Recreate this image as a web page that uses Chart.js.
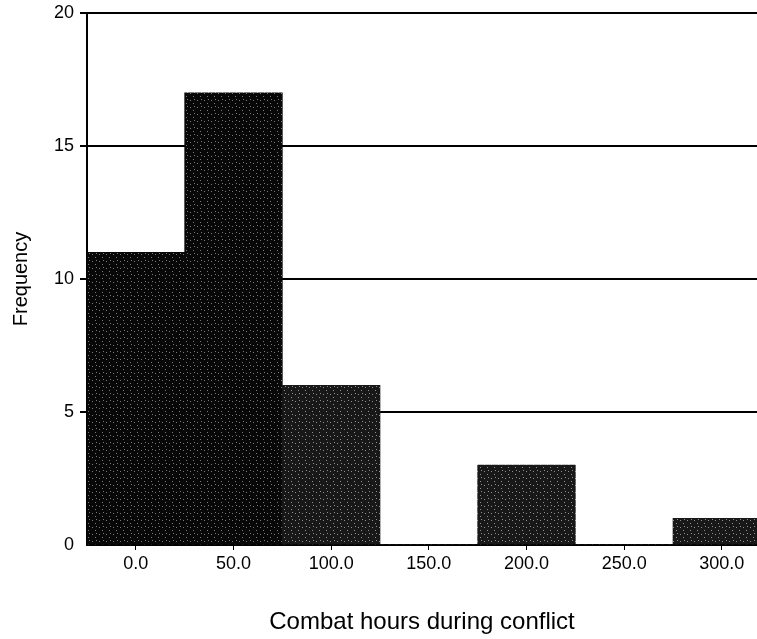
<!DOCTYPE html>
<html>
<head>
<meta charset="utf-8">
<style>
  html, body { margin: 0; padding: 0; background: #fff; }
  #wrap { width: 757px; height: 639px; }
</style>
<script src="https://cdn.jsdelivr.net/npm/chart.js@4.4.1/dist/chart.umd.min.js"></script>
</head>
<body>
<div id="wrap"><canvas id="hist"></canvas></div>
<script>
// bin centres (combat hours) and counts
const binCenters = [0, 50, 100, 150, 200, 250, 300];
const frequencies = [11, 17, 6, 0, 3, 0, 1];
const xTickValues = [0, 50, 100, 150, 200, 250, 300];
const yTickValues = [0, 5, 10, 15, 20];

// grainy dark fill, like the scanned print
function grainPattern(base, speck) {
    const c = document.createElement("canvas");
    c.width = 7;
    c.height = 7;
    const g = c.getContext("2d");
    g.fillStyle = base;
    g.fillRect(0, 0, 7, 7);
    g.fillStyle = speck;
    g.fillRect(1, 2, 1, 1);
    g.fillRect(4, 5, 1, 1);
    g.fillRect(5, 1, 1, 1);
    return g.createPattern(c, "repeat");
}
const fillDark = grainPattern("#080808", "#7a7a7a");
const fillGrey = grainPattern("#181818", "#909090");

const font = "'Liberation Sans', Arial, sans-serif";

new Chart(document.getElementById("hist"), {
    type: "bar",
    data: {
        datasets: [{
            data: binCenters.map((x, i) => ({ x: x, y: frequencies[i] })),
            backgroundColor: [fillDark, fillDark, fillGrey, fillGrey, fillGrey, fillGrey, fillGrey],
            borderWidth: 0,
            barPercentage: 1,
            categoryPercentage: 1
        }]
    },
    options: {
        responsive: true,
        maintainAspectRatio: false,
        animation: false,
        layout: { padding: { top: 13, left: 0, right: 0, bottom: 0 } },
        plugins: {
            legend: { display: false },
            tooltip: { enabled: false }
        },
        scales: {
            x: {
                type: "linear",
                min: -25,
                max: 318,
                offset: false,
                afterBuildTicks: (s) => { s.ticks = xTickValues.map(v => ({ value: v })); },
                afterFit: (s) => { s.height = 94; s.paddingLeft = 0; s.paddingRight = 0; },
                grid: {
                    offset: false,
                    drawOnChartArea: false,
                    drawTicks: true,
                    tickLength: 5,
                    color: "#000",
                    lineWidth: 1
                },
                border: { display: true, color: "#000", width: 2 },
                ticks: {
                    color: "#000",
                    font: { family: font, size: 18 },
                    padding: 3,
                    maxRotation: 0,
                    callback: (v) => Number(v).toFixed(1)
                },
                title: {
                    display: true,
                    text: "Combat hours during conflict",
                    color: "#000",
                    font: { family: font, size: 24 },
                    padding: { top: 0, bottom: 2 }
                }
            },
            y: {
                min: 0,
                max: 20,
                afterBuildTicks: (s) => { s.ticks = yTickValues.map(v => ({ value: v })); },
                afterFit: (s) => { s.width = 87; s.paddingTop = 0; s.paddingBottom = 0; },
                grid: {
                    color: (ctx) => ctx.tick && ctx.tick.value === 0 ? "rgba(0,0,0,0)" : "#000",
                    lineWidth: 2,
                    drawTicks: true,
                    tickLength: 7
                },
                border: { display: true, color: "#000", width: 2 },
                ticks: {
                    color: "#000",
                    font: { family: font, size: 18 },
                    padding: 6
                },
                title: {
                    display: true,
                    text: "Frequency",
                    color: "#000",
                    font: { family: font, size: 20 },
                    padding: { top: 9, bottom: 0 }
                }
            }
        }
    }
});
</script>
</body>
</html>
